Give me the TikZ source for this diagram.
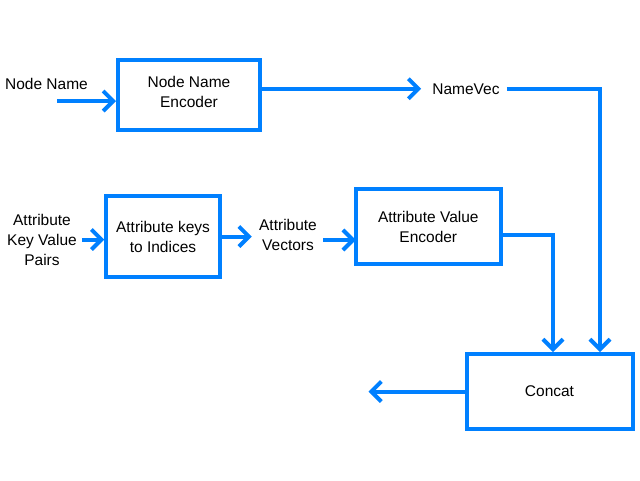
\documentclass[tikz,border=0pt]{standalone}
\usepackage{fontspec}
\setmainfont{Liberation Sans}
\usetikzlibrary{arrows.meta}
\definecolor{lblue}{RGB}{0,128,255}
\begin{document}
\begin{tikzpicture}[x=1pt,y=-1pt,
  font=\fontsize{15.5}{20}\selectfont,
  box/.style={draw=lblue, line width=4pt, align=center, inner sep=0pt},
  lbl/.style={align=center, inner sep=0pt},
  conn/.style={draw=lblue, line width=4pt, line join=miter},
  arr/.style={conn, -{Straight Barb[length=10pt,width=20pt]}}]
\path[use as bounding box, fill=white] (0,0) rectangle (640,480);

% boxes
\node[box, minimum width=142pt, minimum height=70.5pt, text depth=6pt] (nne) at (189,94.8) {Node Name\\Encoder};
\node[box, minimum width=113.5pt, minimum height=81pt] (aki) at (163,236.5) {Attribute keys\\to Indices};
\node[box, minimum width=145.3pt, minimum height=74.5pt] (ave) at (428.3,226.7) {Attribute Value\\Encoder};
\node[box, minimum width=166pt, minimum height=75pt] (cat) at (549.5,391.5) {Concat};

% labels
\node[lbl, anchor=base] (nn) at (46.5,89) {Node Name};
\node[lbl, anchor=base] (nv) at (466,94) {NameVec};
\node[lbl] (akv) at (42,239.5) {Attribute\\Key Value\\Pairs};
\node[lbl] (av) at (288,234.5) {Attribute\\Vectors};

% connectors
\coordinate (nnin) at (57,101);
\draw[arr] (nnin) -- (nnin -| nne.west);
\draw[arr] (nne.east |- nv.center) -- ([xshift=-11pt]nv.west |- nv.center);
\draw[arr] ([xshift=7pt]nv.east) -| ([xshift=50.5pt]cat.north);
\draw[arr] ([xshift=5pt]akv.east) -- (akv.east -| aki.west);
\draw[arr] (aki.east) -- ++(30pt,0);
\draw[arr] ([xshift=6pt,yshift=-5.5pt]av.east) -- ++(32.7pt,0);
\draw[arr] ([yshift=-8pt]ave.east) -| ([xshift=3.5pt]cat.north);
\draw[arr] (cat.west) -- ++(-96pt,0);
\end{tikzpicture}
\end{document}
